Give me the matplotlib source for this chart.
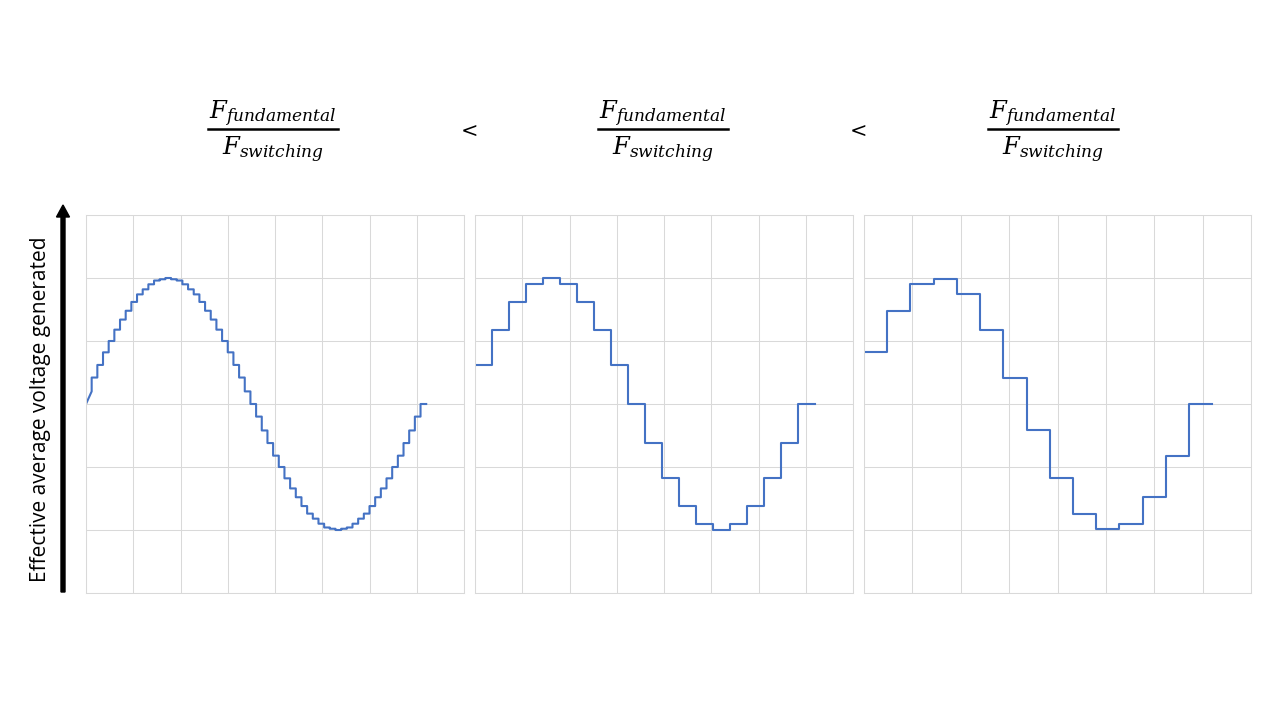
import matplotlib.pyplot as plt
import matplotlib.patches as patches
from matplotlib.lines import Line2D
import numpy as np

# step width in degrees and the held voltage level of each step
step_fine = 6
volts_fine = [0.10, 0.21, 0.31, 0.41, 0.50, 0.59, 0.67, 0.74, 0.81, 0.87,
              0.91, 0.95, 0.98, 0.99, 1.00, 0.99, 0.98, 0.95, 0.91, 0.87,
              0.81, 0.74, 0.67, 0.59, 0.50, 0.41, 0.31, 0.21, 0.10, 0.00,
              -0.10, -0.21, -0.31, -0.41, -0.50, -0.59, -0.67, -0.74, -0.81, -0.87,
              -0.91, -0.95, -0.98, -0.99, -1.00, -0.99, -0.98, -0.95, -0.91, -0.87,
              -0.81, -0.74, -0.67, -0.59, -0.50, -0.41, -0.31, -0.21, -0.10, 0.00]

step_mid = 18
volts_mid = [0.31, 0.59, 0.81, 0.95, 1.00, 0.95, 0.81, 0.59, 0.31, 0.00,
             -0.31, -0.59, -0.81, -0.95, -1.00, -0.95, -0.81, -0.59, -0.31, 0.00]

step_coarse = 24
volts_coarse = [0.41, 0.74, 0.95, 0.99, 0.87, 0.59, 0.21, -0.21, -0.59, -0.87,
                -0.99, -0.95, -0.74, -0.41, 0.00]

numer = r'$F_{fundamental}$'
denom = r'$F_{switching}$'
ylabel = 'Effective average voltage generated'

blue = '#4472C4'
grid_c = '#D9D9D9'

plt.rcParams['mathtext.fontset'] = 'dejavuserif'
fig = plt.figure(figsize=(12.8, 7.2), dpi=100)

W, H = 1280, 720
boxes = [(86, 464), (475, 853), (864, 1251)]
top, bottom = 215, 593


def setup(ax):
    ax.set_xlim(0, 400)
    ax.set_ylim(-1.5, 1.5)
    ax.set_xticks(np.arange(0, 401, 50))
    ax.set_yticks(np.arange(-1.5, 1.51, 0.5))
    ax.grid(True, color=grid_c, lw=0.75)
    ax.tick_params(length=0, labelbottom=False, labelleft=False)
    for s in ax.spines.values():
        s.set_color(grid_c)
        s.set_linewidth(0.75)
    ax.set_axisbelow(True)


axes = []
for l, r in boxes:
    ax = fig.add_axes([l / W, (H - bottom) / H, (r - l) / W, (bottom - top) / H])
    setup(ax)
    axes.append(ax)

# fine panel: first point joins (0, 0) straight to the first level
edges = np.arange(0, 361, step_fine)
xs, ys = [0, edges[1]], [0, volts_fine[0]]
for k in range(1, len(volts_fine)):
    xs += [edges[k], edges[k + 1]]
    ys += [volts_fine[k], volts_fine[k]]
axes[0].plot(xs, ys, color=blue, lw=1.5)

for ax, step, vals in [(axes[1], step_mid, volts_mid), (axes[2], step_coarse, volts_coarse)]:
    e = np.arange(0, 361, step)
    ax.plot(e, vals + [vals[-1]], drawstyle='steps-post', color=blue, lw=1.5)

# headers: fraction built from two texts and a bar
for cx in [273, 663, 1053]:
    fig.text(cx / W, (H - 119.5) / H, numer, ha='center', va='baseline', fontsize=17.5)
    fig.text(cx / W, (H - 155) / H, denom, ha='center', va='baseline', fontsize=17.5)
    fig.add_artist(Line2D([(cx - 65) / W, (cx + 65) / W], [(H - 128.5) / H] * 2,
                          color='black', lw=1.8, transform=fig.transFigure))
for cx in [468, 857]:
    fig.text(cx / W, (H - 131) / H, r'$<$', ha='center', va='center', fontsize=15)

# y arrow and label
fig.add_artist(patches.FancyArrow(63 / W, (H - 592) / H, 0, (592 - 205) / H,
                                  width=4 / W, head_width=13 / W, head_length=12 / H,
                                  length_includes_head=True, color='black',
                                  transform=fig.transFigure))
fig.text(41 / W, (H - 409) / H, ylabel, rotation=90, ha='center', va='center',
         fontsize=15, family='Open Sans')

fig.savefig('out.png', dpi=100)
